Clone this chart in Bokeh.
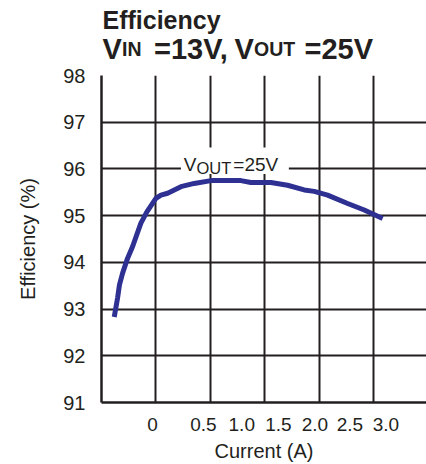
from bokeh.plotting import figure
from bokeh.layouts import column
from bokeh.models import FixedTicker, Label, Range1d, BoxAnnotation
from bokeh.core.properties import value
from bokeh.embed import file_html
from bokeh.resources import INLINE

# ---- data ----
current = [-0.383, -0.352, -0.335, -0.306, -0.260, -0.214, -0.138, -0.083, 0.0,
           0.046, 0.108, 0.230, 0.352, 0.506, 0.781, 0.873, 1.057, 1.210,
           1.363, 1.455, 1.578, 1.762, 1.915, 2.084]
efficiency = [92.83, 93.24, 93.52, 93.77, 94.09, 94.34, 94.84, 95.08, 95.37,
              95.44, 95.48, 95.62, 95.69, 95.75, 95.75, 95.71, 95.71, 95.65,
              95.55, 95.52, 95.44, 95.26, 95.12, 94.94]

x_tick_labels = ["0", "0.5", "1.0", "1.5", "2.0", "2.5", "3.0"]
x_tick_pos = [-0.03, 0.437, 0.789, 1.126, 1.461, 1.783, 2.114]
x_grid = [-0.5, 0.0, 0.5, 1.0, 1.5, 2.0]
y_ticks = [91, 92, 93, 94, 95, 96, 97, 98]

title_line1 = "Efficiency"
title_big = ["V", "=13V,", "V", "=25V"]
title_small = ["IN", "OUT"]

FONT = "Liberation Sans"
INK = "#231f20"
W = 426
LEFT = 101       # left border shared by both stacked plots
TH = 64          # title strip height
MH = 464 - TH    # main chart height
L1, L2 = 19.0, 48.0   # title baselines within the strip frame

# ---------- title strip ----------
t = figure(width=W, height=TH, output_backend="svg", toolbar_location=None, title=None,
           x_range=Range1d(LEFT, W), y_range=Range1d(TH, 0),
           x_axis_location=None, y_axis_location=None,
           min_border_left=LEFT, min_border_right=0, min_border_top=0, min_border_bottom=0)
t.grid.visible = False
t.outline_line_color = None
t.text(x=[102], y=[L1], text=[title_line1], text_font=value(FONT),
       text_font_size="25px", text_font_style="bold", text_color=INK,
       text_baseline="alphabetic", text_align="left")
t.text(x=[102, 153.5, 234, 304], y=[L2] * 4, text=title_big, text_font=value(FONT),
       text_font_size="29px", text_font_style="bold", text_color=INK,
       text_baseline="alphabetic", text_align="left")
t.text(x=[121.5, 253.5], y=[L2] * 2, text=title_small, text_font=value(FONT),
       text_font_size="19.5px", text_font_style="bold", text_color=INK,
       text_baseline="alphabetic", text_align="left")

# ---------- main chart ----------
p = figure(width=W, height=MH, output_backend="svg", toolbar_location=None,
           x_range=Range1d(-0.5, 2.487), y_range=Range1d(91, 98),
           min_border_left=LEFT, min_border_right=0, min_border_top=75 - TH,
           min_border_bottom=61)
p.outline_line_color = None

p.xgrid.ticker = FixedTicker(ticks=x_grid)
p.ygrid.ticker = FixedTicker(ticks=y_ticks)
for g in (p.xgrid, p.ygrid):
    g.grid_line_color = INK
    g.grid_line_width = 2
    g.grid_line_alpha = 1.0

xa = p.xaxis[0]
xa.ticker = FixedTicker(ticks=x_tick_pos)
xa.major_label_overrides = {tp: lb for tp, lb in zip(x_tick_pos, x_tick_labels)}
xa.major_tick_line_color = None
xa.minor_tick_line_color = None
xa.axis_line_color = INK
xa.axis_line_width = 2.5
xa.major_label_text_font = FONT
xa.major_label_text_font_size = "19px"
xa.major_label_text_color = INK
xa.major_label_standoff = 9
xa.axis_label = "Current (A)"
xa.axis_label_text_font = FONT
xa.axis_label_text_font_size = "20px"
xa.axis_label_text_font_style = "normal"
xa.axis_label_text_color = INK
xa.axis_label_standoff = 6

ya = p.yaxis[0]
ya.ticker = FixedTicker(ticks=y_ticks)
ya.major_tick_line_color = None
ya.minor_tick_line_color = None
ya.axis_line_color = INK
ya.axis_line_width = 2.5
ya.major_label_text_font = FONT
ya.major_label_text_font_size = "20px"
ya.major_label_text_color = INK
ya.major_label_standoff = 10
ya.axis_label = "Efficiency (%)"
ya.axis_label_text_font = FONT
ya.axis_label_text_font_size = "20px"
ya.axis_label_text_font_style = "normal"
ya.axis_label_text_color = INK
ya.axis_label_standoff = 21

p.line(current, efficiency, line_color="#2e3192", line_width=5, line_join="round")

p.add_layout(BoxAnnotation(left=0.23, right=1.222, bottom=95.89, top=96.46,
                           fill_color="white", fill_alpha=1.0, line_color=None))
ann = [("V", 0.257, 96.10, "19px"), ("OUT", 0.372, 96.01, "16.5px"), ("=25V", 0.712, 96.10, "19px")]
for txt, ax, ay, fs in ann:
    p.add_layout(Label(x=ax, y=ay, text=txt, text_font=FONT, text_font_size=fs,
                       text_color=INK, text_baseline="alphabetic", text_align="left"))

layout = column(t, p, spacing=0)
open("out.html", "w").write(file_html(layout, INLINE))
